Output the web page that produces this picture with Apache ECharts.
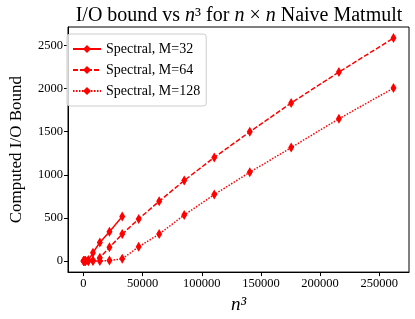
<!DOCTYPE html>
<html><head><meta charset="utf-8">
<script src="https://cdn.jsdelivr.net/npm/echarts@6/dist/echarts.min.js"></script>
<style>html,body{margin:0;padding:0;background:#fff}#c{width:415px;height:319px}</style>
</head><body><div id="c"></div>
<script>
const xM32 = [64, 512, 1728, 4096, 8000, 13824, 21952, 32768];
const yM32 = [0, 0, 3, 10, 95, 215, 340, 515];
const xM64 = [64, 512, 1728, 4096, 8000, 13824, 21952, 32768, 46656, 64000, 85184, 110592, 140608, 175616, 216000, 262144];
const yM64 = [0, 0, 0, 0, 5, 38, 158, 312, 487, 693, 933, 1201, 1498, 1833, 2191, 2585];
const xM128 = [64, 512, 1728, 4096, 8000, 13824, 21952, 32768, 46656, 64000, 85184, 110592, 140608, 175616, 216000, 262144];
const yM128 = [0, 0, 0, 0, 0, 0, 5, 25, 164, 312, 533, 770, 1029, 1315, 1650, 2005];
const xTicks = [0, 50000, 100000, 150000, 200000, 250000];
const yTicks = [0, 500, 1000, 1500, 2000, 2500];
const seriesNames = ['Spectral, M=32', 'Spectral, M=64', 'Spectral, M=128'];

const FONT = 'Liberation Serif';
function zip(xs, ys) { return xs.map((x, i) => [x, ys[i]]); }
function mk(name, xs, ys, type) {
  return {
    name: name, type: 'line', data: zip(xs, ys),
    symbol: 'diamond', symbolSize: [6, 10],
    itemStyle: { color: '#ff0000' },
    lineStyle: { color: '#ff0000', width: 1.5, type: type },
    animation: false
  };
}
const chart = echarts.init(document.getElementById('c'));
chart.setOption({
  animation: false,
  title: {
    text: 'I/O bound vs {i|n}³ for {i|n} × {i|n} Naive Matmult',
    left: 234, textAlign: 'center', top: 1,
    textStyle: {
      fontFamily: FONT, fontSize: 20, fontWeight: 'normal', color: '#000',
      rich: { i: { fontFamily: FONT, fontStyle: 'italic', fontSize: 20, color: '#000' } }
    }
  },
  grid: { left: 60, right: 6, top: 27, bottom: 44, show: true, borderColor: '#000', borderWidth: 1, containLabel: false },
  legend: {
    orient: 'vertical', left: 67, top: 34, itemWidth: 28, itemHeight: 10, itemGap: 7,
    padding: [8, 6, 8, 5], borderColor: '#cccccc', borderWidth: 1, borderRadius: 3,
    backgroundColor: 'rgba(255,255,255,0.8)',
    textStyle: { fontFamily: FONT, fontSize: 14, color: '#000' },
    data: seriesNames
  },
  xAxis: {
    type: 'value', min: -13107, max: 275251,
    axisLine: { onZero: false, lineStyle: { color: '#000', width: 1 } },
    axisTick: { customValues: xTicks, length: 4, lineStyle: { color: '#000' } },
    axisLabel: { customValues: xTicks, formatter: v => String(v), color: '#000', fontFamily: FONT, fontSize: 12.5, margin: 5 },
    splitLine: { show: false },
    name: 'n³', nameLocation: 'middle', nameGap: 20,
    nameTextStyle: { fontFamily: FONT, fontStyle: 'italic', fontSize: 19, color: '#000' }
  },
  yAxis: {
    type: 'value', min: -129, max: 2714,
    axisLine: { onZero: false, lineStyle: { color: '#000', width: 1 } },
    axisTick: { customValues: yTicks, length: 4, lineStyle: { color: '#000' } },
    axisLabel: { customValues: yTicks, formatter: v => String(v), color: '#000', fontFamily: FONT, fontSize: 12.5, margin: 5 },
    splitLine: { show: false },
    name: 'Computed I/O Bound', nameLocation: 'middle', nameGap: 43,
    nameTextStyle: { fontFamily: FONT, fontSize: 17, color: '#000' }
  },
  series: [
    mk(seriesNames[0], xM32, yM32, 'solid'),
    mk(seriesNames[1], xM64, yM64, [5, 2]),
    mk(seriesNames[2], xM128, yM128, [1.5, 1.5])
  ]
});
</script></body></html>
